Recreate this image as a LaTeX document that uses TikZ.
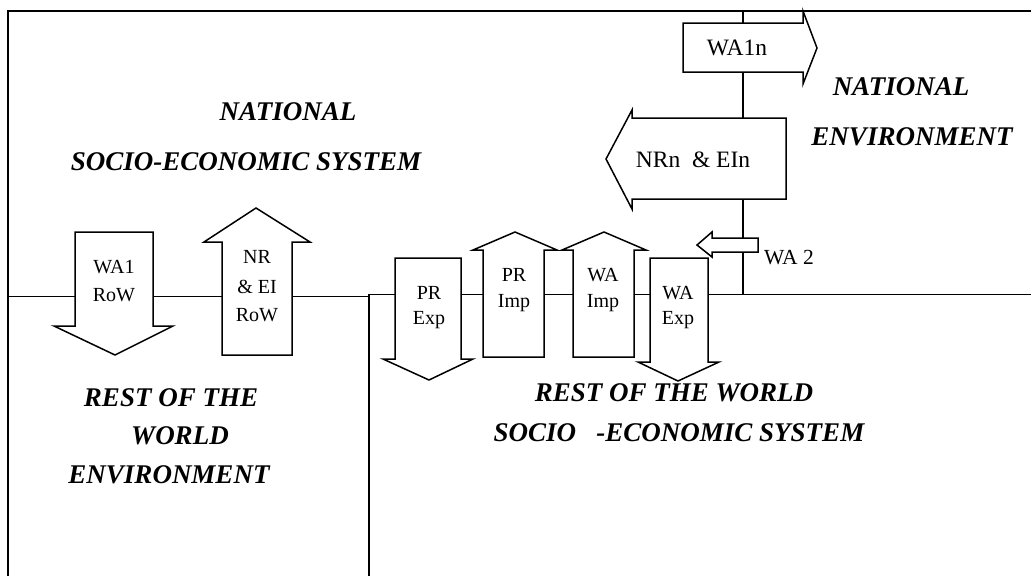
\documentclass[tikz,border=0pt]{standalone}
\usepackage{fontspec}
\setmainfont{Liberation Serif}
\begin{document}
\begin{tikzpicture}[x=1pt,y=-1pt,
  ln/.style={line width=1.5pt, line join=miter},
  arr/.style={ln, fill=white},
  big/.style={font=\fontsize{27}{31}\selectfont\bfseries\itshape, inner sep=0pt, anchor=center},
  lbl/.style={font=\fontsize{20}{23}\selectfont, inner sep=0pt, anchor=center},
  lblb/.style={font=\fontsize{23.5}{26}\selectfont, inner sep=0pt, anchor=center}]
\useasboundingbox (0,0) rectangle (1031,576);
% frame lines
\draw[ln] (8,576) -- (8,11) -- (1031,11);
\draw[ln] (8,296.5) -- (369,296.5);
\draw[ln] (369,576) -- (369,294.5) -- (1031,294.5);
\draw[ln] (743,11) -- (743,294.5);
% down arrows
\draw[arr] (75,232) -- (153,232) -- (153,326) -- (173,326) -- (115,355) -- (54,326) -- (75,326) -- cycle;
\draw[arr] (395,258) -- (461,258) -- (461,359) -- (473,359) -- (429,380) -- (383,359) -- (395,359) -- cycle;
\draw[arr] (650,258) -- (708,258) -- (708,362) -- (719,362) -- (678,381) -- (638,362) -- (650,362) -- cycle;
% up arrows
\draw[arr] (222,355) -- (292,355) -- (292,242) -- (310,242) -- (256,208) -- (204,242) -- (222,242) -- cycle;
\draw[arr] (483,357) -- (544,357) -- (544,250) -- (557,250) -- (515,232) -- (473,250) -- (483,250) -- cycle;
\draw[arr] (573,357) -- (634,357) -- (634,250) -- (646,250) -- (604,232) -- (562,250) -- (573,250) -- cycle;
% right arrow WA1n
\draw[arr] (683,23) -- (803,23) -- (803,11) -- (817,48) -- (803,84) -- (803,72) -- (683,72) -- cycle;
% left arrows
\draw[arr] (786,118) -- (632,118) -- (632,110) -- (606,159) -- (632,209) -- (632,199) -- (786,199) -- cycle;
\draw[arr] (758,238) -- (712,238) -- (712,232) -- (697,245) -- (712,257) -- (712,252) -- (758,252) -- cycle;
% arrow labels
\node[lbl] (wa1) at (114,267) {WA1};
\node[lbl] (wa1b) at (114,295) {RoW};
\node[lbl] (nr1) at (257,257) {NR};
\node[lbl] (nr2) at (257,287) {\& EI};
\node[lbl] (nr3) at (257,315) {RoW};
\node[lbl] (pre1) at (429,293) {PR};
\node[lbl] (pre2) at (429,320) {Exp};
\node[lbl] (pri1) at (514,275) {PR};
\node[lbl] (pri2) at (514,303) {Imp};
\node[lbl] (wai1) at (603,275) {WA};
\node[lbl] (wai2) at (603,303) {Imp};
\node[lbl] (wae1) at (678,293) {WA};
\node[lbl] (wae2) at (678,320) {Exp};
\node[lblb] (wa1n) at (737,48) {WA1n};
\node[lblb] (nrn) at (693,160) {NRn\ \ \& EIn};
\node[lbl, font=\fontsize{21.5}{24}\selectfont] (wa2) at (789,258) {WA 2};
% big titles
\node[big] (t1) at (288,112) {NATIONAL};
\node[big] (t2) at (246,162) {SOCIO-ECONOMIC SYSTEM};
\node[big] (t3) at (901,87) {NATIONAL};
\node[big] (t4) at (912,137) {ENVIRONMENT};
\node[big] (t5) at (171,398) {REST OF THE};
\node[big] (t6) at (180,436) {WORLD};
\node[big] (t7) at (169,475) {ENVIRONMENT};
\node[big] (t8) at (674,393) {REST OF THE WORLD};
\node[big] (t9) at (679,433) {SOCIO\ \ \ -ECONOMIC SYSTEM};
\end{tikzpicture}
\end{document}
